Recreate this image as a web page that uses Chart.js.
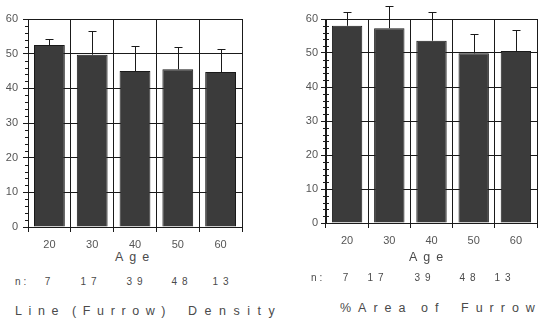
<!DOCTYPE html>
<html>
<head>
<meta charset="utf-8">
<script src="https://cdn.jsdelivr.net/npm/chart.js@4.4.0/dist/chart.umd.min.js"></script>
<style>
  body { margin: 0; background: #fff; width: 538px; height: 324px; overflow: hidden; position: relative;
         font-family: "Liberation Sans", Arial, sans-serif; color: #4a4a4a; }
  canvas { position: absolute; top: 0; }
  .t { position: absolute; white-space: pre; line-height: 1; }
</style>
</head>
<body>
<canvas id="densityChart" width="269" height="250" style="left:0"></canvas>
<canvas id="areaChart" width="270" height="250" style="left:268px"></canvas>
<div id="labels"></div>
<script>
// data
const ages = ['20', '30', '40', '50', '60'];
const lineDensity = [52.5, 49.7, 45.0, 45.5, 44.7];
const lineDensityErr = [1.7, 6.9, 7.2, 6.3, 6.6];
const areaFurrow = [58.0, 57.3, 53.6, 49.9, 50.6];
const areaFurrowErr = [4.1, 6.5, 8.5, 5.7, 6.1];
const nCounts = [7, 17, 39, 48, 13];
const yTicks = [0, 10, 20, 30, 40, 50, 60];

const ink = '#1a1a1a';
const textGray = '#555';

// upward error bars + minor ticks on the y axis
const errorBars = {
  id: 'errorBars',
  afterDatasetsDraw(chart, args, opts) {
    const ctx = chart.ctx;
    const y = chart.scales.y;
    const meta = chart.getDatasetMeta(0);
    const vals = chart.data.datasets[0].data;
    ctx.save();
    ctx.strokeStyle = ink;
    ctx.lineWidth = 1;
    meta.data.forEach((bar, i) => {
      const x = Math.round(bar.x) + 0.5;
      const top = Math.round(y.getPixelForValue(vals[i] + opts.err[i])) + 0.5;
      ctx.beginPath();
      ctx.moveTo(x, bar.y);
      ctx.lineTo(x, top);
      ctx.moveTo(x - 4, top);
      ctx.lineTo(x + 4, top);
      ctx.stroke();
    });
    const ax = chart.chartArea.left;
    ctx.beginPath();
    for (let v = 2; v < 60; v += 2) {
      if (v % 10 === 0) continue;
      const py = Math.round(y.getPixelForValue(v)) + 0.5;
      ctx.moveTo(ax - 3, py);
      ctx.lineTo(ax + opts.minorIn, py);
    }
    ctx.stroke();
    ctx.restore();
  }
};

function makeChart(id, values, errs, pad, yWidth, xHeight, yPad, xPad, minorIn) {
  return new Chart(document.getElementById(id), {
    type: 'bar',
    data: {
      labels: ages,
      datasets: [{
        data: values,
        backgroundColor: '#3b3b3b',
        borderColor: ink,
        borderWidth: 1,
        barPercentage: 0.72,
        categoryPercentage: 1
      }]
    },
    options: {
      responsive: false,
      animation: false,
      layout: { padding: pad },
      plugins: {
        legend: { display: false },
        tooltip: { enabled: false },
        errorBars: { err: errs, minorIn: minorIn }
      },
      scales: {
        x: {
          grid: { color: ink, lineWidth: 1, tickLength: 5, offset: true },
          border: { color: ink },
          ticks: { color: textGray, padding: xPad, font: { size: 11, family: 'Liberation Sans' } },
          afterFit: s => { s.height = xHeight; }
        },
        y: {
          min: 0,
          max: 60,
          afterBuildTicks: s => { s.ticks = yTicks.map(v => ({ value: v })); },
          grid: { color: ink, lineWidth: 1, tickLength: 5 },
          border: { color: ink },
          ticks: { color: textGray, padding: yPad, font: { size: 11, family: 'Liberation Sans' } },
          afterFit: s => { s.width = yWidth; }
        }
      }
    },
    plugins: [errorBars]
  });
}

makeChart('densityChart', lineDensity, lineDensityErr, { top: 19, right: 27, left: 0, bottom: 0 }, 28, 23, 5, 6, 0);
makeChart('areaChart', areaFurrow, areaFurrowErr, { top: 19, right: 1, left: 28, bottom: 0 }, 30, 27, 3, 6, 3);

// text under the charts
const box = document.getElementById('labels');
function addText(str, x, y, size, spacing, center, wordSpacing) {
  const d = document.createElement('div');
  d.className = 't';
  d.textContent = str;
  d.style.fontSize = size + 'px';
  d.style.letterSpacing = spacing + 'px';
  if (wordSpacing) d.style.wordSpacing = wordSpacing + 'px';
  d.style.left = x + 'px';
  d.style.top = (y - size / 2) + 'px';
  if (center) d.style.transform = 'translateX(-50%)';
  box.appendChild(d);
}

addText('Age', 135, 257, 12.5, 6, true);
addText('Age', 429, 257, 12.5, 6, true);

const nLeft = [50, 91, 137, 182, 223];
const nRight = [348, 378, 425, 470, 505];
addText('n:', 15, 282, 10, 3, false);
addText('n:', 311, 278, 10, 3, false);
nCounts.forEach((n, i) => {
  addText(String(n), nLeft[i], 282, 10, 5, true);
  addText(String(n), nRight[i], 278, 10, 5, true);
});

addText('Line (Furrow)', 15, 311, 12.5, 6.6, false, -3);
addText('Density', 188, 311, 12.5, 7.5, false);
addText('%Area', 340, 308, 12.5, 7, false);
addText('of', 421, 308, 12.5, 7, false);
addText('Furrow', 461, 308, 12.5, 7, false);
</script>
</body>
</html>
